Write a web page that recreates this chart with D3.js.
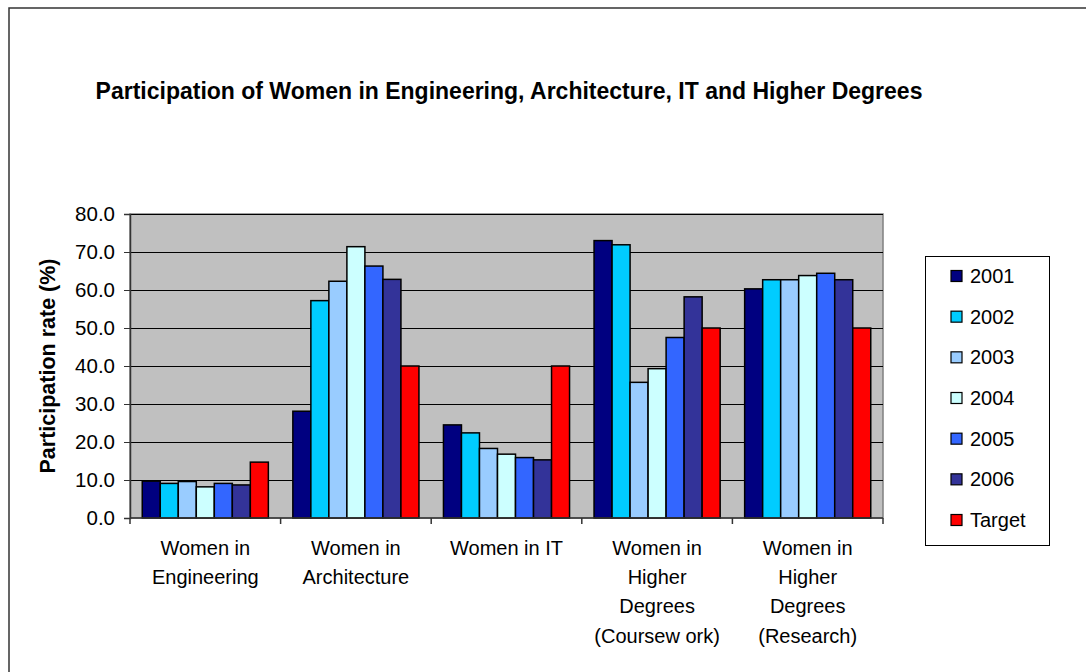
<!DOCTYPE html>
<html>
<head>
<meta charset="utf-8">
<script src="https://cdn.jsdelivr.net/npm/d3@7"></script>
<style>
  body { margin: 0; background: #fff; }
  svg { display: block; font-family: "Liberation Sans", Arial, sans-serif; }
</style>
</head>
<body>
<svg id="chart"></svg>
<script>
// Categories (x axis labels, one entry per line)
const categories = [
  ['Women in', 'Engineering'],
  ['Women in', 'Architecture'],
  ['Women in IT'],
  ['Women in', 'Higher', 'Degrees', '(Coursew ork)'],
  ['Women in', 'Higher', 'Degrees', '(Research)']
];
const seriesNames = ['2001', '2002', '2003', '2004', '2005', '2006', 'Target'];
const seriesColors = ['#000080', '#00ccff', '#99ccff', '#ccffff', '#3366ff', '#333399', '#ff0000'];

// Values per series, in category order
const values2001 = [9.7, 28.1, 24.5, 73.0, 60.3];
const values2002 = [9.1, 57.2, 22.4, 71.9, 62.7];
const values2003 = [9.6, 62.3, 18.3, 35.7, 62.7];
const values2004 = [8.2, 71.4, 16.8, 39.3, 63.8];
const values2005 = [9.1, 66.3, 15.9, 47.5, 64.4];
const values2006 = [8.7, 62.8, 15.3, 58.2, 62.7];
const valuesTarget = [14.7, 40.0, 40.0, 50.0, 50.0];

const yTicks = [0, 10, 20, 30, 40, 50, 60, 70, 80];

const allValues = [values2001, values2002, values2003, values2004, values2005, values2006, valuesTarget];

const width = 1086, height = 672;
const margin = { top: 214, right: 203, bottom: 154, left: 130 };
const innerW = width - margin.left - margin.right;
const innerH = height - margin.top - margin.bottom;

const svg = d3.select('#chart')
  .attr('width', width)
  .attr('height', height);

// Outer frame (only top and left edges are visible in the picture)
svg.append('path')
  .attr('d', `M9,${height} L9,8 L${width},8`)
  .attr('fill', 'none')
  .attr('stroke', '#333')
  .attr('stroke-width', 1.5);

// Title
svg.append('text')
  .attr('x', 509)
  .attr('y', 99)
  .attr('text-anchor', 'middle')
  .style('font-size', '23px')
  .style('font-weight', 'bold')
  .text('Participation of Women in Engineering, Architecture, IT and Higher Degrees');

const chart = svg.append('g')
  .attr('transform', `translate(${margin.left},${margin.top})`);

// Scales
const catIdx = categories.map((d, i) => i);
const xScale = d3.scaleBand().domain(catIdx).range([0, innerW]).padding(0);
const xInner = d3.scaleBand().domain(seriesNames).range([0, xScale.bandwidth()])
  .paddingInner(0).paddingOuter(0.68);
const yScale = d3.scaleLinear().domain([0, 80]).range([innerH, 0]);

// Plot background
chart.append('rect')
  .attr('width', innerW)
  .attr('height', innerH)
  .attr('fill', '#c0c0c0')
  .attr('stroke', '#808080')
  .attr('stroke-width', 1.5);

// Gridlines
chart.append('g')
  .selectAll('line')
  .data(yTicks.filter(d => d > 0))
  .join('line')
  .attr('x1', 0)
  .attr('x2', innerW)
  .attr('y1', d => Math.round(yScale(d)) + 0.5)
  .attr('y2', d => Math.round(yScale(d)) + 0.5)
  .attr('stroke', '#000')
  .attr('stroke-width', 1);

// Bars
const barData = [];
allValues.forEach((vals, s) => {
  vals.forEach((v, c) => barData.push({ cat: c, series: seriesNames[s], color: seriesColors[s], value: v }));
});

chart.append('g')
  .selectAll('rect')
  .data(barData)
  .join('rect')
  .attr('x', d => xScale(d.cat) + xInner(d.series))
  .attr('y', d => yScale(d.value))
  .attr('width', xInner.bandwidth())
  .attr('height', d => innerH - yScale(d.value))
  .attr('fill', d => d.color)
  .attr('stroke', '#000')
  .attr('stroke-width', 1.5);

// Y axis
const yAxis = d3.axisLeft(yScale)
  .tickValues(yTicks)
  .tickSize(6)
  .tickPadding(9)
  .tickFormat(d3.format('.1f'));

chart.append('g')
  .attr('class', 'y-axis')
  .call(yAxis)
  .call(g => g.select('.domain').attr('stroke', '#333').attr('stroke-width', 1.5))
  .call(g => g.selectAll('.tick line').attr('stroke', '#333'))
  .call(g => g.selectAll('.tick text')
    .style('font-size', '20.5px')
    .style('font-family', '"Liberation Sans", Arial, sans-serif')
    .attr('fill', '#000'));

// X axis baseline and separator ticks
chart.append('line')
  .attr('x1', 0).attr('x2', innerW)
  .attr('y1', innerH).attr('y2', innerH)
  .attr('stroke', '#333')
  .attr('stroke-width', 1.5);

chart.append('g')
  .selectAll('line')
  .data(d3.range(categories.length + 1))
  .join('line')
  .attr('x1', d => d < categories.length ? xScale(d) : innerW)
  .attr('x2', d => d < categories.length ? xScale(d) : innerW)
  .attr('y1', innerH)
  .attr('y2', innerH + 6)
  .attr('stroke', '#333')
  .attr('stroke-width', 1.5);

// Category labels
const catLabels = chart.append('g')
  .selectAll('text')
  .data(categories)
  .join('text')
  .attr('text-anchor', 'middle')
  .attr('x', (d, i) => xScale(i) + xScale.bandwidth() / 2)
  .attr('y', innerH + 37)
  .style('font-size', '20px');

catLabels.selectAll('tspan')
  .data(d => d)
  .join('tspan')
  .attr('x', function () { return d3.select(this.parentNode).attr('x'); })
  .attr('dy', (d, i) => i === 0 ? 0 : 29.2)
  .text(d => d);

// Y axis title
svg.append('text')
  .attr('transform', `translate(55,${margin.top + innerH / 2}) rotate(-90)`)
  .attr('text-anchor', 'middle')
  .style('font-size', '21.5px')
  .style('font-weight', 'bold')
  .text('Participation rate (%)');

// Legend
const legend = svg.append('g')
  .attr('transform', 'translate(925,256)');

legend.append('rect')
  .attr('x', 0.5).attr('y', 0.5)
  .attr('width', 124)
  .attr('height', 289)
  .attr('fill', '#fff')
  .attr('stroke', '#000')
  .attr('stroke-width', 1);

const legendY = d3.scalePoint().domain(seriesNames).range([20, 264]);

const items = legend.selectAll('.legend-item')
  .data(seriesNames)
  .join('g')
  .attr('class', 'legend-item')
  .attr('transform', d => `translate(0,${legendY(d)})`);

items.append('rect')
  .attr('x', 26)
  .attr('y', -5.5)
  .attr('width', 11)
  .attr('height', 11)
  .attr('fill', (d, i) => seriesColors[i])
  .attr('stroke', '#000')
  .attr('stroke-width', 1.2);

items.append('text')
  .attr('x', 45)
  .attr('y', 7)
  .style('font-size', '20px')
  .text(d => d);
</script>
</body>
</html>
